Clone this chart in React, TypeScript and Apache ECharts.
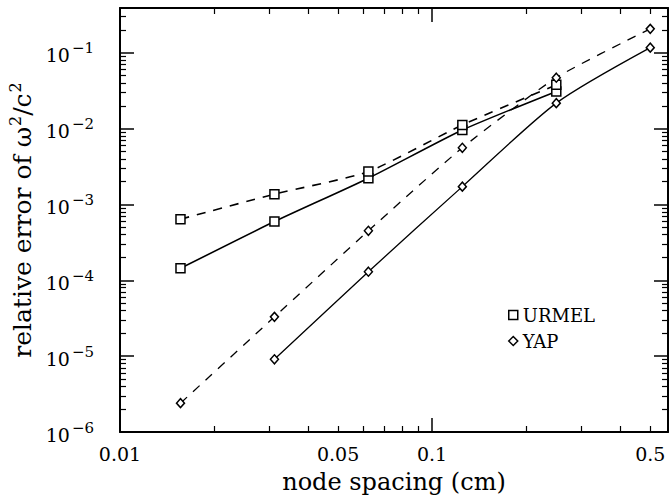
import React, { useEffect, useRef } from 'react';
import * as echarts from 'echarts';

// ---- data ----
const nodeSpacing = [0.015625, 0.03125, 0.0625, 0.125, 0.25, 0.5];
const urmelSolid = [1.44e-4, 5.95e-4, 2.22e-3, 9.6e-3, 0.031];
const urmelDashed = [6.4e-4, 1.37e-3, 2.72e-3, 0.0112, 0.0378];
const yapDashed = [2.4e-6, 3.3e-5, 4.5e-4, 5.6e-3, 0.047, 0.207];
const yapSolid = [null, 9.1e-6, 1.3e-4, 1.72e-3, 0.0217, 0.117];

const xTickLabels = [0.01, 0.05, 0.1, 0.5];
const xMajorTicks = [0.01, 0.1];
const yTickLabels = [1e-6, 1e-5, 1e-4, 1e-3, 1e-2, 1e-1];
const minorMultipliers = [2, 3, 4, 5, 6, 7, 8, 9];

const X_MIN = 0.01;
const X_MAX = 0.57;
const Y_MIN = 1e-6;
const Y_MAX = 0.39;

const FONT = 'DejaVu Serif';

const minorOf = (decades: number[], max: number) =>
  decades
    .flatMap((d) => minorMultipliers.map((m) => +(d * m).toPrecision(6)))
    .filter((v) => v < max);

const toPairs = (vals: (number | null)[]) =>
  vals
    .map((v, i) => (v == null ? null : [nodeSpacing[i], v]))
    .filter((p) => p != null);

export default function App() {
  const ref = useRef<HTMLDivElement>(null);

  useEffect(() => {
    if (!ref.current) return;
    const chart = echarts.init(ref.current, null, { renderer: 'svg' });

    const xMinor = minorOf(xMajorTicks, X_MAX);
    const yMinor = minorOf(yTickLabels, Y_MAX);

    const lineW = 2;
    const axisLine = { show: true, onZero: false, lineStyle: { color: '#000', width: lineW } };
    const noLine = { show: false };
    const majorTick = (vals: number[]) => ({
      show: true,
      inside: true,
      length: 14,
      customValues: vals,
      lineStyle: { color: '#000', width: 1.5 },
    });
    const minorTick = (vals: number[]) => ({
      show: true,
      inside: true,
      length: 6,
      customValues: vals,
      lineStyle: { color: '#000', width: 1.2 },
    });

    const xBase = {
      type: 'log',
      logBase: 10,
      min: X_MIN,
      max: X_MAX,
      gridIndex: 0,
      splitLine: { show: false },
      minorTick: { show: false },
      minorSplitLine: { show: false },
    };
    const yBase = {
      type: 'log',
      logBase: 10,
      min: Y_MIN,
      max: Y_MAX,
      gridIndex: 0,
      splitLine: { show: false },
      minorTick: { show: false },
      minorSplitLine: { show: false },
    };

    const sym = {
      color: '#fff',
      borderColor: '#000',
      borderWidth: 1.5,
    };

    const option = {
      animation: false,
      backgroundColor: '#fff',
      grid: {
        left: 120,
        right: 2,
        top: 8,
        bottom: 63,
        containLabel: false,
        outerBoundsMode: 'none',
      },
      legend: {
        orient: 'vertical',
        left: 503,
        top: 300,
        itemWidth: 9,
        itemHeight: 9,
        itemGap: 6,
        itemTextGap: 10,
        selectedMode: false,
        textStyle: { color: '#000', fontFamily: FONT, fontSize: 18, lineHeight: 20 },
        data: [
          { name: 'URMEL', icon: 'rect', itemStyle: sym },
          { name: 'YAP', icon: 'diamond', itemStyle: sym },
        ],
      },
      xAxis: [
        {
          ...xBase,
          position: 'bottom',
          axisLine,
          axisTick: majorTick(xMajorTicks),
          axisLabel: {
            show: true,
            customValues: xTickLabels,
            margin: 12,
            color: '#000',
            fontFamily: FONT,
            fontSize: 19,
            formatter: (v: number) => String(+Number(v).toPrecision(6)),
          },
          name: 'node spacing (cm)',
          nameLocation: 'middle',
          nameGap: 38,
          nameTextStyle: { color: '#000', fontFamily: FONT, fontSize: 24 },
        },
        {
          ...xBase,
          position: 'bottom',
          axisLine: noLine,
          axisTick: minorTick(xMinor),
          axisLabel: { show: false },
        },
        {
          ...xBase,
          position: 'top',
          axisLine,
          axisTick: majorTick(xMajorTicks),
          axisLabel: { show: false },
        },
        {
          ...xBase,
          position: 'top',
          axisLine: noLine,
          axisTick: minorTick(xMinor),
          axisLabel: { show: false },
        },
      ],
      yAxis: [
        {
          ...yBase,
          position: 'left',
          axisLine,
          axisTick: majorTick(yTickLabels),
          axisLabel: {
            show: true,
            customValues: yTickLabels,
            margin: 26,
            color: '#000',
            fontFamily: FONT,
            formatter: (v: number) =>
              `{b|10}{s|\u2212${Math.round(-Math.log10(v))}}`,
            rich: {
              b: { fontFamily: FONT, fontSize: 19, color: '#000', verticalAlign: 'bottom' },
              s: {
                fontFamily: FONT,
                fontSize: 15,
                color: '#000',
                verticalAlign: 'bottom',
                padding: [0, 0, 9, 2],
              },
            },
          },
          name: '{n|relative error of \u03c9}{s|2}{n|/c}{s|2}',
          nameLocation: 'middle',
          nameGap: 78,
          nameTextStyle: {
            color: '#000',
            fontFamily: FONT,
            fontSize: 25,
            rich: {
              n: { fontFamily: FONT, fontSize: 25, color: '#000', verticalAlign: 'bottom' },
              s: {
                fontFamily: FONT,
                fontSize: 16,
                color: '#000',
                verticalAlign: 'bottom',
                padding: [0, 0, 11, 1],
              },
            },
          },
        },
        {
          ...yBase,
          position: 'left',
          axisLine: noLine,
          axisTick: minorTick(yMinor),
          axisLabel: { show: false },
        },
        {
          ...yBase,
          position: 'right',
          axisLine,
          axisTick: majorTick(yTickLabels),
          axisLabel: { show: false },
        },
        {
          ...yBase,
          position: 'right',
          axisLine: noLine,
          axisTick: minorTick(yMinor),
          axisLabel: { show: false },
        },
      ],
      series: [
        {
          name: 'URMEL',
          type: 'line',
          xAxisIndex: 0,
          yAxisIndex: 0,
          data: toPairs(urmelSolid),
          smooth: 0.2,
          symbol: 'rect',
          symbolSize: 9,
          showSymbol: true,
          lineStyle: { color: '#000', width: 1.6, type: 'solid' },
          itemStyle: sym,
          z: 3,
        },
        {
          name: 'URMEL',
          type: 'line',
          xAxisIndex: 0,
          yAxisIndex: 0,
          data: toPairs(urmelDashed),
          smooth: 0.2,
          symbol: 'rect',
          symbolSize: 9,
          lineStyle: { color: '#000', width: 1.6, type: [9, 8] },
          itemStyle: sym,
          z: 3,
        },
        {
          name: 'YAP',
          type: 'line',
          xAxisIndex: 0,
          yAxisIndex: 0,
          data: toPairs(yapDashed),
          smooth: 0.2,
          symbol: 'diamond',
          symbolSize: [8, 9],
          lineStyle: { color: '#000', width: 1.3, type: [9, 8] },
          itemStyle: sym,
          z: 4,
        },
        {
          name: 'YAP',
          type: 'line',
          xAxisIndex: 0,
          yAxisIndex: 0,
          data: toPairs(yapSolid),
          smooth: 0.25,
          symbol: 'diamond',
          symbolSize: [8, 9],
          lineStyle: { color: '#000', width: 1.3, type: 'solid' },
          itemStyle: sym,
          z: 4,
        },
      ],
    };

    chart.setOption(option as any);
    return () => {
      chart.dispose();
    };
  }, []);

  return (
    <div
      ref={ref}
      style={{
        position: 'fixed',
        left: 0,
        top: 0,
        width: 670,
        height: 495,
        background: '#fff',
      }}
    />
  );
}
